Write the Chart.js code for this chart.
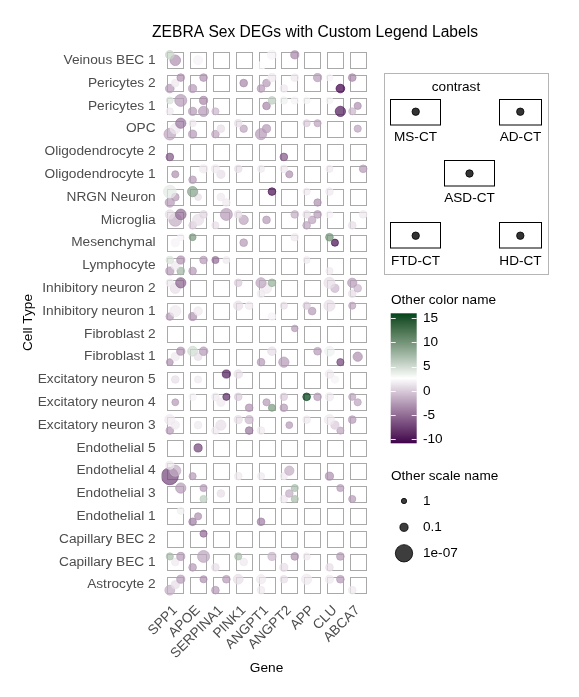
<!DOCTYPE html>
<html><head><meta charset="utf-8">
<script src="https://cdn.jsdelivr.net/npm/chart.js@4.4.1/dist/chart.umd.min.js"></script>
<style>html,body{margin:0;padding:0;background:#fff;}canvas{display:block;}</style>
</head><body>
<canvas id="c" width="579" height="697"></canvas>
<script>
const genes = ['SPP1','APOE','SERPINA1','PINK1','ANGPT1','ANGPT2','APP','CLU','ABCA7'];
const cellTypes = ['Veinous BEC 1','Pericytes 2','Pericytes 1','OPC','Oligodendrocyte 2','Oligodendrocyte 1','NRGN Neuron','Microglia','Mesenchymal','Lymphocyte','Inhibitory neuron 2','Inhibitory neuron 1','Fibroblast 2','Fibroblast 1','Excitatory neuron 5','Excitatory neuron 4','Excitatory neuron 3','Endothelial 5','Endothelial 4','Endothelial 3','Endothelial 1','Capillary BEC 2','Capillary BEC 1','Astrocyte 2'];
const contrasts = ['MS-CT','AD-CT','ASD-CT','FTD-CT','HD-CT'];
const colorTicks = [15,10,5,0,-5,-10];
const colorLimits = [-10.8, 16.0];
const sizeBreaks = [1, 0.1, 1e-7];
const sizeLabels = ['1','0.1','1e-07'];
const chartTitle = 'ZEBRA Sex DEGs with Custom Legend Labels';
const colorTitle = 'Other color name';
const sizeTitle = 'Other scale name';

// [gene, cell type, value, -log10(p)]
const msCT = [
 ['SPP1','Veinous BEC 1',5.5,1.2],
 ['CLU','Pericytes 2',2,0.5],['ABCA7','Pericytes 2',-3.5,0.8],
 ['SPP1','Pericytes 1',4.5,0.5],['ANGPT2','Pericytes 1',3.5,0.7],['APP','Pericytes 1',2,0.5],['CLU','Pericytes 1',2,0.5],
 ['APOE','OPC',1.5,0.6],['PINK1','OPC',1,0.8],['APP','OPC',0,0.6],
 ['SERPINA1','Oligodendrocyte 1',1.5,1.0],['PINK1','Oligodendrocyte 1',1,0.8],['ANGPT1','Oligodendrocyte 1',1.5,0.6],['ANGPT2','Oligodendrocyte 1',1.5,0.8],['CLU','Oligodendrocyte 1',1.5,0.6],
 ['SPP1','NRGN Neuron',4,3.5],['APOE','NRGN Neuron',9,2.0],['APP','NRGN Neuron',1.5,0.6],['CLU','NRGN Neuron',1.5,0.8],
 ['SPP1','Microglia',1,1.5],['PINK1','Microglia',1,0.8],['APP','Microglia',1,0.8],['CLU','Microglia',2,0.6],
 ['APOE','Mesenchymal',9.5,0.5],['CLU','Mesenchymal',10,0.8],
 ['SPP1','Lymphocyte',4.5,0.8],['SERPINA1','Lymphocyte',-5,0.6],['APP','Lymphocyte',1.5,0.5],
 ['SPP1','Inhibitory neuron 2',1.5,0.8],['PINK1','Inhibitory neuron 2',0,0.8],['ANGPT1','Inhibitory neuron 2',-2,2.0],['CLU','Inhibitory neuron 2',1,2.5],['ABCA7','Inhibitory neuron 2',-2.5,1.5],
 ['PINK1','Inhibitory neuron 1',1,1.5],['ANGPT2','Inhibitory neuron 1',1,0.6],['APP','Inhibitory neuron 1',0,0.7],['CLU','Inhibitory neuron 1',1,2.5],['ABCA7','Inhibitory neuron 1',-2,0.6],
 ['APOE','Fibroblast 1',5,1.8],['CLU','Fibroblast 1',3.5,1.8],
 ['PINK1','Excitatory neuron 5',1,1.2],['CLU','Excitatory neuron 5',1.5,1.2],
 ['APOE','Excitatory neuron 4',2,0.7],['SERPINA1','Excitatory neuron 4',1.5,0.8],['PINK1','Excitatory neuron 4',0,0.8],['ANGPT2','Excitatory neuron 4',0,0.7],['APP','Excitatory neuron 4',16,0.8],['CLU','Excitatory neuron 4',1.5,1.0],['ABCA7','Excitatory neuron 4',-2,0.6],
 ['SPP1','Excitatory neuron 3',1.5,2.0],['PINK1','Excitatory neuron 3',1,1.0],['APP','Excitatory neuron 3',1.5,0.8],['CLU','Excitatory neuron 3',1.5,2.0],['ABCA7','Excitatory neuron 3',-2.5,0.8],
 ['SPP1','Endothelial 4',1.5,1.0],
 ['SPP1','Capillary BEC 1',7,0.6],['PINK1','Capillary BEC 1',7,0.6],['APP','Capillary BEC 1',1.5,0.6],
 ['PINK1','Astrocyte 2',1,1.8],['ANGPT1','Astrocyte 2',1.5,1.5],['ANGPT2','Astrocyte 2',1,0.8],['APP','Astrocyte 2',1.5,2.0],['CLU','Astrocyte 2',1.5,1.0]
];
const adCT = [
 ['ANGPT1','Veinous BEC 1',2,1.5],['ANGPT2','Veinous BEC 1',-3.5,1.0],
 ['SPP1','Pericytes 2',-3,0.8],['APOE','Pericytes 2',-3,0.8],['ANGPT1','Pericytes 2',1.5,1.0],['ANGPT2','Pericytes 2',1.5,0.8],['APP','Pericytes 2',-2.5,1.0],
 ['SPP1','Pericytes 1',-2.5,3.0],['APOE','Pericytes 1',-3.5,1.0],['ANGPT1','Pericytes 1',6,0.8],['ANGPT2','Pericytes 1',2,0.7],
 ['SPP1','OPC',-4.5,2.0],['APP','OPC',-2,0.6],
 ['APOE','Oligodendrocyte 1',1.5,1.0],['ABCA7','Oligodendrocyte 1',-2.5,0.8],
 ['ANGPT1','NRGN Neuron',-10,0.8],
 ['SPP1','Microglia',-5,2.2],['APOE','Microglia',0.5,0.8],['SERPINA1','Microglia',-2.5,3.0],['ANGPT2','Microglia',-1.5,0.8],['APP','Microglia',-2.5,0.8],['ABCA7','Microglia',1.5,0.8],
 ['SPP1','Mesenchymal',2,0.5],['ANGPT2','Mesenchymal',1.5,0.8],
 ['SPP1','Lymphocyte',-3,1.0],['APOE','Lymphocyte',-2.5,0.8],['SERPINA1','Lymphocyte',1.5,0.6],
 ['SPP1','Inhibitory neuron 2',-5.5,2.0],['ANGPT1','Inhibitory neuron 2',8,0.8],
 ['PINK1','Inhibitory neuron 1',1.5,0.8],
 ['ANGPT2','Fibroblast 2',-2.5,0.4],
 ['SPP1','Fibroblast 1',-3,1.0],['APOE','Fibroblast 1',-2.5,1.2],['ANGPT1','Fibroblast 1',1,1.2],['APP','Fibroblast 1',-2.5,0.8],
 ['SERPINA1','Excitatory neuron 5',-9.5,1.0],
 ['SERPINA1','Excitatory neuron 4',-8.5,0.6],['APP','Excitatory neuron 4',-2.5,0.8],
 ['PINK1','Excitatory neuron 3',-1,1.0],
 ['SPP1','Endothelial 3',-2.5,2.0],['APOE','Endothelial 3',-2.5,0.6],['ANGPT2','Endothelial 3',7,0.6],['CLU','Endothelial 3',-2.5,0.6],
 ['SPP1','Endothelial 1',3.5,0.6],
 ['APOE','Capillary BEC 2',-5,0.6],
 ['SPP1','Capillary BEC 1',-2.5,1.0],['APOE','Capillary BEC 1',-2,3.0],['ANGPT1','Capillary BEC 1',-1,1.0],['ANGPT2','Capillary BEC 1',-3,0.8],['CLU','Capillary BEC 1',-2.5,0.8],
 ['SPP1','Astrocyte 2',-2.5,1.0],['APOE','Astrocyte 2',-3,0.6],['SERPINA1','Astrocyte 2',-2.5,0.8],['CLU','Astrocyte 2',-2.5,0.8]
];
const asdCT = [
 ['SPP1','Veinous BEC 1',-3,2.2],['APOE','Veinous BEC 1',2,1.5],
 ['SPP1','Pericytes 2',1.5,0.8],['PINK1','Pericytes 2',-3.5,0.8],['ANGPT1','Pericytes 2',-2.5,0.8],
 ['ANGPT1','Pericytes 1',-3.5,0.8],['ABCA7','Pericytes 1',-3,0.6],
 ['SPP1','OPC',1.5,2.0],['SERPINA1','OPC',1,0.8],['PINK1','OPC',-2,0.7],['ANGPT1','OPC',-2.5,1.0],['ABCA7','OPC',-2,0.6],
 ['SPP1','Oligodendrocyte 1',-3,0.6],['SERPINA1','Oligodendrocyte 1',1,1.0],['ANGPT2','Oligodendrocyte 1',-3,0.6],
 ['SPP1','NRGN Neuron',-2.5,0.8],['APOE','NRGN Neuron',1,0.5],['SERPINA1','NRGN Neuron',1.5,0.8],
 ['SPP1','Microglia',-1.5,3.5],['APOE','Microglia',1,2.5],['PINK1','Microglia',-2,1.5],['ANGPT1','Microglia',-2.5,0.8],['APP','Microglia',-2,0.8],
 ['SPP1','Mesenchymal',2,1.0],['PINK1','Mesenchymal',-2.5,0.8],['CLU','Mesenchymal',-10,0.6],
 ['SPP1','Lymphocyte',1.5,1.0],
 ['SPP1','Inhibitory neuron 2',1,2.0],['ANGPT1','Inhibitory neuron 2',1.5,2.0],['CLU','Inhibitory neuron 2',-1,1.0],['ABCA7','Inhibitory neuron 2',-1,0.8],
 ['SPP1','Inhibitory neuron 1',1.5,2.5],['APOE','Inhibitory neuron 1',1.5,1.2],['APP','Inhibitory neuron 1',-2.5,0.8],
 ['SPP1','Fibroblast 1',1.5,1.0],['APOE','Fibroblast 1',1,0.8],['ABCA7','Fibroblast 1',-3,1.5],
 ['SPP1','Excitatory neuron 5',1,0.8],['APOE','Excitatory neuron 5',1.5,0.6],['CLU','Excitatory neuron 5',2,0.7],
 ['SPP1','Excitatory neuron 4',-2.5,0.5],['SERPINA1','Excitatory neuron 4',1.5,1.0],['ANGPT1','Excitatory neuron 4',-2.5,0.6],['ABCA7','Excitatory neuron 4',-2,0.6],
 ['SPP1','Excitatory neuron 3',1.5,1.0],['APOE','Excitatory neuron 3',1.5,0.8],['SERPINA1','Excitatory neuron 3',1,2.0],['ANGPT2','Excitatory neuron 3',-2.5,0.5],['CLU','Excitatory neuron 3',0,1.0],
 ['APOE','Endothelial 5',-7,1.0],
 ['SPP1','Endothelial 4',-1.5,2.5],['ANGPT2','Endothelial 4',-1.5,1.5],
 ['SERPINA1','Endothelial 3',1,0.8],['ANGPT2','Endothelial 3',-1.5,0.8],
 ['APOE','Endothelial 1',-3,0.6],
 ['SPP1','Capillary BEC 1',1.5,0.8],['PINK1','Capillary BEC 1',1.5,0.8],
 ['SPP1','Astrocyte 2',1,1.0]
];
const ftdCT = [
 ['ANGPT1','Veinous BEC 1',2.5,1.0],
 ['SPP1','Pericytes 2',-2.5,1.2],['APOE','Pericytes 2',-2.5,1.0],['ANGPT1','Pericytes 2',-2.5,0.8],['ANGPT2','Pericytes 2',1.5,0.8],
 ['SPP1','Pericytes 1',1.5,0.6],['APOE','Pericytes 1',-2.5,1.0],['SERPINA1','Pericytes 1',-1,0.6],['ABCA7','Pericytes 1',-1,0.6],
 ['SPP1','OPC',-2,2.8],['APOE','OPC',-2.5,1.0],['SERPINA1','OPC',-2,0.8],['ANGPT1','OPC',-2.5,2.5],
 ['SPP1','Oligodendrocyte 2',-6,0.8],['ANGPT2','Oligodendrocyte 2',-6,0.8],
 ['APOE','Oligodendrocyte 1',-2.5,0.8],
 ['SPP1','NRGN Neuron',-2.5,1.5],
 ['APOE','Microglia',0,0.8],['SERPINA1','Microglia',1,0.6],['APP','Microglia',-2,0.8],['ABCA7','Microglia',1,0.8],
 ['SPP1','Lymphocyte',-2.5,1.0],['APOE','Lymphocyte',-2.5,0.8],['CLU','Lymphocyte',1.5,0.6],
 ['ANGPT1','Inhibitory neuron 2',1.5,0.8],['ABCA7','Inhibitory neuron 2',1,0.8],
 ['SPP1','Inhibitory neuron 1',-2.5,0.8],['APOE','Inhibitory neuron 1',-3,1.0],
 ['SPP1','Fibroblast 1',-3,0.5],['ANGPT1','Fibroblast 1',-2.5,0.8],['ANGPT2','Fibroblast 1',-2.5,2.0],
 ['ANGPT2','Excitatory neuron 4',-2.5,0.8],
 ['SPP1','Excitatory neuron 3',-2.5,0.8],['SERPINA1','Excitatory neuron 3',1.5,0.8],['ANGPT1','Excitatory neuron 3',1.5,0.8],
 ['SPP1','Endothelial 4',-7,6.8],['APOE','Endothelial 4',-2.5,0.6],['PINK1','Endothelial 4',1.5,0.8],['ANGPT1','Endothelial 4',1.5,0.6],['ANGPT2','Endothelial 4',1.5,0.6],['CLU','Endothelial 4',-3,1.0],
 ['ANGPT2','Endothelial 3',1.5,0.8],['ABCA7','Endothelial 3',-2.5,0.6],
 ['APOE','Endothelial 1',-4,0.8],['ANGPT1','Endothelial 1',-4,0.8],
 ['APOE','Capillary BEC 1',-2.5,0.8],['SERPINA1','Capillary BEC 1',1,0.8],['ANGPT2','Capillary BEC 1',1,1.0],['CLU','Capillary BEC 1',1,0.8],
 ['SPP1','Astrocyte 2',-1.5,1.8],['SERPINA1','Astrocyte 2',-2.5,0.8],['ANGPT1','Astrocyte 2',1.5,0.8],['ABCA7','Astrocyte 2',1.5,0.8]
];
const hdCT = [
 ['CLU','Pericytes 2',-10.8,1.2],
 ['APOE','Pericytes 1',-2.5,2.0],['CLU','Pericytes 1',-9.5,2.0],
 ['SERPINA1','NRGN Neuron',1.5,0.8],['APP','NRGN Neuron',-3,0.7],
 ['SPP1','Lymphocyte',7.5,0.8],
 ['ANGPT1','Inhibitory neuron 1',2,0.8],
 ['CLU','Fibroblast 1',-7,0.6],
 ['PINK1','Excitatory neuron 4',-3,0.8],['ANGPT1','Excitatory neuron 4',9.5,0.6],
 ['PINK1','Excitatory neuron 3',-4.5,0.8],['CLU','Excitatory neuron 3',-2,0.6],
 ['APOE','Endothelial 3',6,0.6],['ANGPT2','Endothelial 3',7,0.6]
];
const contrastData = [msCT, adCT, asdCT, ftdCT, hdCT];

// ---- styling / layout helpers ----
const OFF = 0.24;
const contrastOffset = [[-OFF,-OFF],[OFF,-OFF],[0,0],[-OFF,OFF],[OFF,OFF]];
const LOW = '#40004b', MID = '#ffffff', HIGH = '#00441b';
function hexRgb(h){return [parseInt(h.slice(1,3),16),parseInt(h.slice(3,5),16),parseInt(h.slice(5,7),16)];}
function toLin(c){c/=255;return c<=0.04045?c/12.92:Math.pow((c+0.055)/1.055,2.4);}
function fromLin(c){const v=c<=0.0031308?12.92*c:1.055*Math.pow(c,1/2.4)-0.055;return Math.max(0,Math.min(255,Math.round(v*255)));}
function rgb2lab(rgb){
  const [r,g,b]=rgb.map(toLin);
  let X=(0.4124*r+0.3576*g+0.1805*b)/0.95047, Y=(0.2126*r+0.7152*g+0.0722*b), Z=(0.0193*r+0.1192*g+0.9505*b)/1.08883;
  const f=t=>t>0.008856?Math.cbrt(t):7.787*t+16/116;
  const fx=f(X),fy=f(Y),fz=f(Z);
  return [116*fy-16,500*(fx-fy),200*(fy-fz)];
}
function lab2rgb(lab){
  const fy=(lab[0]+16)/116, fx=fy+lab[1]/500, fz=fy-lab[2]/200;
  const fi=t=>t*t*t>0.008856?t*t*t:(t-16/116)/7.787;
  const X=fi(fx)*0.95047, Y=fi(fy), Z=fi(fz)*1.08883;
  const r=3.2406*X-1.5372*Y-0.4986*Z, g=-0.9689*X+1.8758*Y+0.0415*Z, b=0.0557*X-0.2040*Y+1.0570*Z;
  return [fromLin(r),fromLin(g),fromLin(b)];
}
const LABS=[LOW,MID,HIGH].map(h=>rgb2lab(hexRgb(h)));
function colorOf(v,a){
  let t=(v-colorLimits[0])/(colorLimits[1]-colorLimits[0]);
  t=Math.max(0,Math.min(1,t));
  let l0,l1,f;
  if(t<0.5){l0=LABS[0];l1=LABS[1];f=t/0.5;} else {l0=LABS[1];l1=LABS[2];f=(t-0.5)/0.5;}
  const c=lab2rgb(l0.map((x,k)=>x+(l1[k]-x)*f));
  return `rgba(${c[0]},${c[1]},${c[2]},${a})`;
}
function radiusOf(nlp){return Math.sqrt(7+9.7*nlp);}
const FONT='"Liberation Sans", Arial, Helvetica, sans-serif';

const datasets = contrastData.map((arr,ci)=>({
  label: contrasts[ci],
  data: arr.map(d=>({
    x: genes.indexOf(d[0]) + contrastOffset[ci][0],
    y: cellTypes.indexOf(d[1]) + contrastOffset[ci][1],
    r: radiusOf(d[3]), v: d[2]
  })),
  backgroundColor: ctx=>colorOf(ctx.raw ? ctx.raw.v : 0, 0.72),
  borderColor: ctx=>colorOf(ctx.raw ? ctx.raw.v : 0, 0.85),
  borderWidth: 0.8
}));

const boxPlugin = {
  id:'boxes',
  beforeDatasetsDraw(chart){
    const {ctx, scales:{x,y}} = chart;
    const half = Math.abs(x.getPixelForValue(0.35)-x.getPixelForValue(0));
    ctx.save();
    ctx.strokeStyle='#a9a9a9'; ctx.lineWidth=1;
    for(let r=0;r<cellTypes.length;r++){
      for(let g=0;g<genes.length;g++){
        const px=x.getPixelForValue(g), py=y.getPixelForValue(r);
        ctx.strokeRect(Math.round(px-half)+0.5, Math.round(py-half)+0.5, Math.round(2*half), Math.round(2*half));
      }
    }
    ctx.restore();
  }
};

const legendPlugin = {
  id:'customLegend',
  afterDraw(chart){
    const ctx=chart.ctx;
    ctx.save();
    ctx.fillStyle='#000'; ctx.font='15.6px '+FONT; ctx.textAlign='center'; ctx.textBaseline='middle';
    ctx.fillText(chartTitle, 315, 33);
    ctx.strokeStyle='#b5b5b5'; ctx.lineWidth=1;
    ctx.strokeRect(384.5,73.5,164,201);
    ctx.font='13.6px '+FONT; ctx.fillStyle='#000';
    ctx.fillText('contrast', 456, 87);
    const keys=[[390.5,99.5,415.7,111.7,137],[499.5,99.5,520.3,111.7,137],[444.5,160.5,469.5,173.5,198],[390.5,222.5,415.7,235.7,261],[499.5,222.5,520.3,235.7,261]];
    const kw=[50,42,50,50,42];
    keys.forEach((k,i)=>{
      ctx.strokeStyle='#000'; ctx.lineWidth=1;
      ctx.strokeRect(k[0],k[1],kw[i],25.5);
      ctx.beginPath(); ctx.arc(k[2],k[3],3.7,0,Math.PI*2);
      ctx.fillStyle='#333'; ctx.fill(); ctx.strokeStyle='#000'; ctx.lineWidth=0.8; ctx.stroke();
      ctx.fillStyle='#000'; ctx.textAlign='center';
      ctx.fillText(contrasts[i], k[0]+kw[i]/2, k[4]);
    });
    ctx.textAlign='left';
    ctx.fillText(colorTitle, 391, 300);
    const bx=390.7, bw=26, yTop=313.3, yBot=443.3;
    const grad=ctx.createLinearGradient(0,yTop,0,yBot);
    const N=40;
    for(let i=0;i<=N;i++){
      const v=colorLimits[1]-(colorLimits[1]-colorLimits[0])*i/N;
      grad.addColorStop(i/N, colorOf(v,1));
    }
    ctx.fillStyle=grad; ctx.fillRect(bx,yTop,bw,yBot-yTop);
    const vy=v=>yTop+(colorLimits[1]-v)/(colorLimits[1]-colorLimits[0])*(yBot-yTop);
    ctx.strokeStyle='rgba(255,255,255,0.9)'; ctx.lineWidth=1;
    ctx.fillStyle='#000';
    colorTicks.forEach(t=>{
      const yy=Math.round(vy(t))+0.5;
      ctx.beginPath(); ctx.moveTo(bx,yy); ctx.lineTo(bx+5,yy); ctx.moveTo(bx+bw-5,yy); ctx.lineTo(bx+bw,yy); ctx.stroke();
      ctx.fillText(String(t), 423, vy(t));
    });
    ctx.fillText(sizeTitle, 391, 476);
    const sy=[501,527.3,553.3];
    sizeBreaks.forEach((p,i)=>{
      ctx.beginPath(); ctx.arc(404, sy[i], radiusOf(-Math.log10(p)), 0, Math.PI*2);
      ctx.fillStyle='rgba(40,40,40,0.9)'; ctx.fill(); ctx.strokeStyle='#000'; ctx.lineWidth=0.8; ctx.stroke();
      ctx.fillStyle='#000';
      ctx.fillText(sizeLabels[i], 423, sy[i]);
    });
    ctx.restore();
  }
};

new Chart(document.getElementById('c'), {
  type:'bubble',
  data:{datasets},
  plugins:[boxPlugin, legendPlugin],
  options:{
    responsive:false, animation:false, devicePixelRatio:1,
    events:[],
    layout:{padding:{left:0,right:207.6,top:46.6,bottom:0}},
    plugins:{legend:{display:false}, tooltip:{enabled:false}, title:{display:false}},
    scales:{
      x:{
        type:'linear', min:-0.6, max:8.6,
        grid:{display:false, drawTicks:false}, border:{display:false},
        afterBuildTicks:s=>{s.ticks=genes.map((g,i)=>({value:i}));},
        afterFit:s=>{s.height=98.6;},
        ticks:{autoSkip:false, maxRotation:45, minRotation:45, padding:4, color:'#4d4d4d',
               font:{family:FONT,size:13.7}, callback:v=>genes[v]===undefined?'':genes[v]},
        title:{display:true, text:'Gene', color:'#000', font:{family:FONT,size:13.7}, padding:{top:0,bottom:21}}
      },
      y:{
        type:'linear', min:-0.6, max:23.6, reverse:true,
        grid:{display:false, drawTicks:false}, border:{display:false},
        afterBuildTicks:s=>{s.ticks=cellTypes.map((c,i)=>({value:i}));},
        afterFit:s=>{s.width=161.6;},
        ticks:{autoSkip:false, padding:6, color:'#4d4d4d',
               font:{family:FONT,size:13.7}, callback:v=>cellTypes[v]===undefined?'':cellTypes[v]},
        title:{display:true, text:'Cell Type', color:'#000', font:{family:FONT,size:13.7}, padding:{top:20,bottom:0}}
      }
    }
  }
});
</script>
</body></html>
